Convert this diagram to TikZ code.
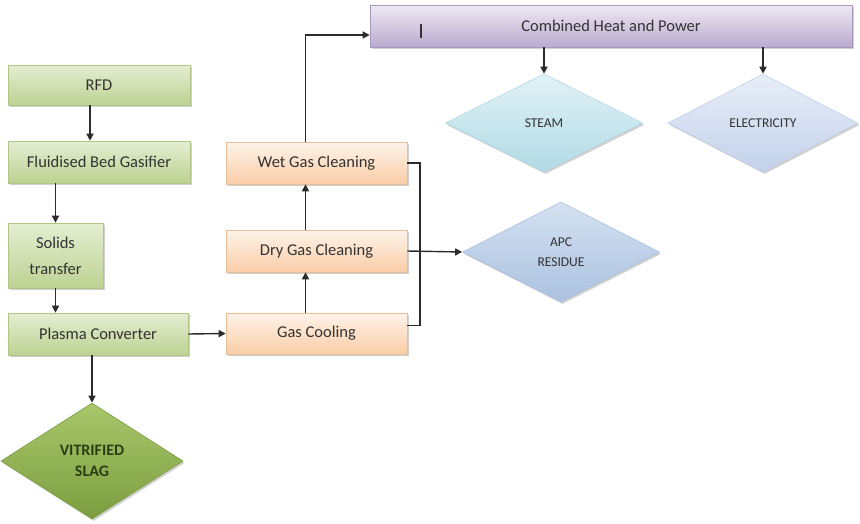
\documentclass[tikz,border=0pt]{standalone}
\usepackage{fontspec}
\setmainfont{Carlito}
\usetikzlibrary{shapes.geometric,arrows.meta,shadows}
\definecolor{txt}{HTML}{333333}
\definecolor{gTop}{HTML}{E4EED2}
\definecolor{gBot}{HTML}{BDD292}
\definecolor{gEdge}{HTML}{B0C588}
\definecolor{oTop}{HTML}{FFF3EA}
\definecolor{oBot}{HTML}{F9CDA6}
\definecolor{oEdge}{HTML}{E8BE9A}
\definecolor{pTop}{HTML}{EEE9F3}
\definecolor{pBot}{HTML}{B9ABCF}
\definecolor{pEdge}{HTML}{A898C0}
\definecolor{sTop}{HTML}{E2F2F6}
\definecolor{sBot}{HTML}{B0DAE5}
\definecolor{eTop}{HTML}{E8EEF8}
\definecolor{eBot}{HTML}{C2D1EA}
\definecolor{aTop}{HTML}{D4E1F1}
\definecolor{aBot}{HTML}{ABC2E0}
\definecolor{vTop}{HTML}{A8C76A}
\definecolor{vBot}{HTML}{7B9D40}
\definecolor{vTxt}{HTML}{2A3D14}
\definecolor{lineC}{HTML}{2B2B2B}
\begin{document}
\begin{tikzpicture}[x=1pt,y=-1pt,
  every node/.style={text=txt, inner sep=0pt},
  shade/.style={drop shadow={shadow xshift=1.5pt,shadow yshift=-2pt,opacity=.3,fill=black!60}},
  gbox/.style={rectangle, shade, draw=gEdge, line width=.6pt, top color=gTop, bottom color=gBot,
    font=\fontsize{16.5}{26}\selectfont, align=center},
  obox/.style={rectangle, shade, draw=oEdge, line width=.6pt, top color=oTop, bottom color=oBot,
    font=\fontsize{16.5}{20}\selectfont},
  pbox/.style={rectangle, shade, draw=pEdge, line width=.6pt, top color=pTop, bottom color=pBot,
    font=\fontsize{16.5}{20}\selectfont},
  dia/.style={diamond, shade, line width=.6pt, font=\fontsize{13.5}{20}\selectfont, align=center},
  arr/.style={draw=lineC, line width=1.4pt, -{Triangle[length=7pt,width=7pt]}},
  plain/.style={draw=lineC, line width=1.4pt}
]
\useasboundingbox (0,0) rectangle (860,523);
\fill[white] (0,0) rectangle (860,523);

% left column
\node[gbox, minimum width=182pt, minimum height=40pt] (rfd) at (99,85) {RFD};
\node[gbox, minimum width=182pt, minimum height=42pt] (fbg) at (99,162) {Fluidised Bed Gasifier};
\node[gbox, minimum width=95pt, minimum height=65pt] (sol) at (55.5,255.5) {Solids\\transfer};
\node[gbox, minimum width=180pt, minimum height=42pt] (pc) at (98,334) {Plasma Converter};
\node[dia, draw=vBot, top color=vTop, bottom color=vBot, minimum width=182pt, minimum height=116pt,
  text=vTxt, font=\bfseries\fontsize{16}{21}\selectfont] (slag) at (92,461) {VITRIFIED\\SLAG};

% middle column
\node[obox, minimum width=181pt, minimum height=41pt] (gc) at (316.5,333.5) {Gas Cooling};
\node[obox, minimum width=181pt, minimum height=42pt] (dgc) at (316.5,251) {Dry Gas Cleaning};
\node[obox, minimum width=181pt, minimum height=42pt] (wgc) at (316.5,163) {Wet Gas Cleaning};

% top
\node[pbox, minimum width=482pt, minimum height=42pt] (chp) at (611,26) {Combined Heat and Power};
\node[fill=txt, minimum width=1.8pt, minimum height=14pt] (cursor) at (421,31) {};

% outputs
\node[dia, draw=sBot, top color=sTop, bottom color=sBot, minimum width=197pt, minimum height=98pt] (steam) at (544,123) {STEAM};
\node[dia, draw=eBot, top color=eTop, bottom color=eBot, minimum width=190pt, minimum height=98pt] (elec) at (763,123) {ELECTRICITY};
\node[dia, draw=aBot, top color=aTop, bottom color=aBot, minimum width=197pt, minimum height=100pt] (apc) at (561,252) {APC\\RESIDUE};

\coordinate (bus) at (420,0);

% connectors
\draw[arr] ([xshift=-9pt]rfd.south) -- ([xshift=-9pt]fbg.north);
\draw[arr] (fbg.south -| sol.north) -- (sol.north);
\draw[arr] (sol.south) -- (sol.south |- pc.north);
\draw[arr] (pc.south -| slag.north) -- (slag.north);
\draw[arr] (pc.east) -- (gc.west);
\draw[arr] ([xshift=-11pt]gc.north) -- ([xshift=-11pt]dgc.south);
\draw[arr] ([xshift=-11pt]dgc.north) -- ([xshift=-11pt]wgc.south);
\draw[arr] ([xshift=-11pt]wgc.north) |- ([yshift=-9pt]chp.west);
\draw[arr] (chp.south -| steam.north) -- (steam.north);
\draw[arr] (chp.south -| elec.north) -- (elec.north);
\draw[plain] (wgc.east) -- (wgc.east -| bus) -- ([yshift=8pt]gc.east -| bus) -- ([yshift=8pt]gc.east);
\draw[arr] (dgc.east) -- (apc.west);
\end{tikzpicture}
\end{document}
